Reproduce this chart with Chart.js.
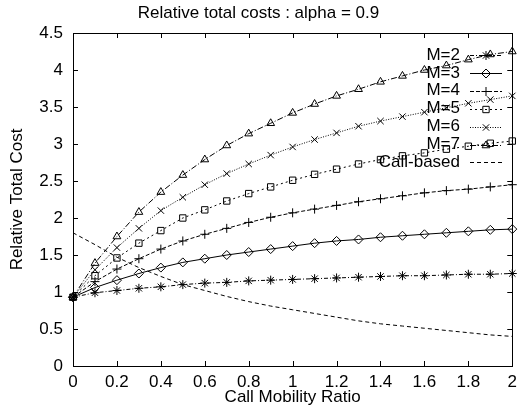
<!DOCTYPE html>
<html>
<head>
<meta charset="utf-8">
<script src="https://cdn.jsdelivr.net/npm/chart.js@4.4.1/dist/chart.umd.min.js"></script>
<style>
  html, body { margin: 0; padding: 0; background: #fff; }
</style>
</head>
<body>
<canvas id="myChart" width="523" height="415"></canvas>
<script>
const FONT = '"Liberation Sans", Arial, Helvetica, sans-serif';

// Call mobility ratio (x)
const ratio = [0, 0.1, 0.2, 0.3, 0.4, 0.5, 0.6, 0.7, 0.8, 0.9, 1.0,
               1.1, 1.2, 1.3, 1.4, 1.5, 1.6, 1.7, 1.8, 1.9, 2.0];

// relative total cost per series
const m2 = [0.93, 0.99, 1.02, 1.05, 1.07, 1.10, 1.12, 1.13, 1.15, 1.16, 1.17,
            1.18, 1.19, 1.20, 1.21, 1.22, 1.22, 1.23, 1.24, 1.24, 1.25];
const m3 = [0.93, 1.06, 1.16, 1.25, 1.33, 1.40, 1.45, 1.50, 1.54, 1.58, 1.62,
            1.66, 1.69, 1.71, 1.74, 1.76, 1.78, 1.80, 1.82, 1.84, 1.85];
const m4 = [0.93, 1.14, 1.31, 1.45, 1.58, 1.69, 1.78, 1.86, 1.94, 2.01, 2.07,
            2.12, 2.17, 2.22, 2.26, 2.30, 2.34, 2.37, 2.39, 2.42, 2.45];
const m5 = [0.93, 1.22, 1.46, 1.66, 1.83, 2.00, 2.11, 2.23, 2.33, 2.42, 2.51,
            2.59, 2.66, 2.73, 2.79, 2.84, 2.88, 2.93, 2.97, 3.01, 3.04];
const m6 = [0.93, 1.30, 1.60, 1.86, 2.10, 2.28, 2.45, 2.60, 2.73, 2.85, 2.96,
            3.06, 3.15, 3.24, 3.31, 3.37, 3.43, 3.49, 3.55, 3.60, 3.65];
const m7 = [0.93, 1.39, 1.75, 2.08, 2.35, 2.58, 2.79, 2.98, 3.14, 3.28, 3.42,
            3.54, 3.65, 3.74, 3.84, 3.92, 4.00, 4.06, 4.14, 4.21, 4.25];
const callBased = [1.80, 1.64, 1.47, 1.33, 1.21, 1.10, 1.02, 0.94, 0.87, 0.81, 0.76,
                   0.71, 0.66, 0.61, 0.57, 0.54, 0.51, 0.48, 0.45, 0.42, 0.40];

const seriesLabels = ['M=2', 'M=3', 'M=4', 'M=5', 'M=6', 'M=7', 'Call-based'];
const seriesValues = [m2, m3, m4, m5, m6, m7, callBased];

const xTicks = [0, 0.2, 0.4, 0.6, 0.8, 1, 1.2, 1.4, 1.6, 1.8, 2];
const yTicks = [0, 0.5, 1, 1.5, 2, 2.5, 3, 3.5, 4, 4.5];

// gnuplot-ish line/point types
const looks = [
  { dash: [4, 2, 1, 2], point: 'star' },
  { dash: [], point: 'rectRot' },
  { dash: [4, 2], point: 'cross' },
  { dash: [2, 3], point: 'rect' },
  { dash: [1, 1.5], point: 'crossRot' },
  { dash: [6, 2, 1, 2], point: 'triangle' },
  { dash: [4, 3], point: false },
];

const datasets = seriesValues.map((vals, i) => ({
  label: seriesLabels[i],
  data: ratio.map((x, j) => ({ x: x, y: vals[j] })),
  borderColor: '#000',
  backgroundColor: 'rgba(0,0,0,0)',
  borderWidth: 1,
  borderDash: looks[i].dash,
  pointStyle: looks[i].point,
  pointRadius: looks[i].point ? 4.5 : 0,
  pointBorderWidth: 1,
  tension: 0,
  clip: false,
}));

// frame with inward ticks on all sides + gnuplot style key
const gnuplotFrame = {
  id: 'gnuplotFrame',
  afterDatasetsDraw(chart) {
    const { ctx, chartArea: a, scales: { x, y } } = chart;
    ctx.save();
    ctx.strokeStyle = '#000';
    ctx.lineWidth = 1;
    ctx.setLineDash([]);
    ctx.beginPath();
    xTicks.forEach(v => {
      const px = Math.round(x.getPixelForValue(v)) + 0.5;
      ctx.moveTo(px, a.bottom); ctx.lineTo(px, a.bottom - 5);
      ctx.moveTo(px, a.top); ctx.lineTo(px, a.top + 5);
    });
    yTicks.forEach(v => {
      const py = Math.round(y.getPixelForValue(v)) + 0.5;
      ctx.moveTo(a.left, py); ctx.lineTo(a.left + 5, py);
      ctx.moveTo(a.right, py); ctx.lineTo(a.right - 5, py);
    });
    ctx.stroke();
    ctx.strokeRect(Math.round(a.left) + 0.5, Math.round(a.top) + 0.5,
                   Math.round(a.right - a.left), Math.round(a.bottom - a.top));

    // key
    ctx.font = '17px ' + FONT;
    ctx.fillStyle = '#000';
    ctx.textAlign = 'right';
    ctx.textBaseline = 'middle';
    chart.data.datasets.forEach((ds, i) => {
      const ry = 55 + i * 17.9;
      ctx.fillText(ds.label, 460, ry);
      ctx.setLineDash(ds.borderDash);
      ctx.beginPath();
      ctx.moveTo(470, Math.round(ry) + 0.5);
      ctx.lineTo(502, Math.round(ry) + 0.5);
      ctx.stroke();
      ctx.setLineDash([]);
      if (ds.pointStyle) {
        ctx.fillStyle = 'rgba(0,0,0,0)';
        Chart.helpers.drawPoint(ctx, { pointStyle: ds.pointStyle, radius: 4.5, borderWidth: 1, rotation: 0 }, 486, Math.round(ry) + 0.5);
        ctx.fillStyle = '#000';
      }
    });
    ctx.restore();
  }
};

const tickFont = { family: FONT, size: 17 };
const plainNum = v => String(Number(Number(v).toFixed(1)));

new Chart(document.getElementById('myChart'), {
  type: 'line',
  data: { datasets: datasets },
  plugins: [gnuplotFrame],
  options: {
    responsive: false,
    animation: false,
    events: [],
    layout: { padding: { left: 0, right: 6, top: 0, bottom: 0 } },
    plugins: {
      legend: { display: false },
      tooltip: { enabled: false },
      title: {
        display: true,
        text: 'Relative total costs : alpha = 0.9',
        color: '#000',
        font: { family: FONT, size: 17, weight: 'normal' },
        padding: { top: 3, bottom: 9.6 },
      },
    },
    scales: {
      x: {
        type: 'linear',
        min: 0,
        max: 2,
        afterBuildTicks: s => { s.ticks = xTicks.map(v => ({ value: v })); },
        afterFit: s => { s.height = 49; },
        grid: { display: false, drawTicks: false },
        border: { display: false },
        ticks: { padding: 6, color: '#000', font: tickFont, maxRotation: 0, autoSkip: false, callback: plainNum },
        title: { display: true, text: 'Call Mobility Ratio', color: '#000', font: tickFont, padding: { top: 0, bottom: 7 } },
      },
      y: {
        type: 'linear',
        min: 0,
        max: 4.5,
        afterBuildTicks: s => { s.ticks = yTicks.map(v => ({ value: v })); },
        afterFit: s => { s.width = 73; },
        grid: { display: false, drawTicks: false },
        border: { display: false },
        ticks: { padding: 10, color: '#000', font: tickFont, autoSkip: false, callback: plainNum },
        title: { display: true, text: 'Relative Total Cost', color: '#000', font: tickFont, padding: { top: 7, bottom: 0 } },
      },
    },
  },
});
</script>
</body>
</html>
